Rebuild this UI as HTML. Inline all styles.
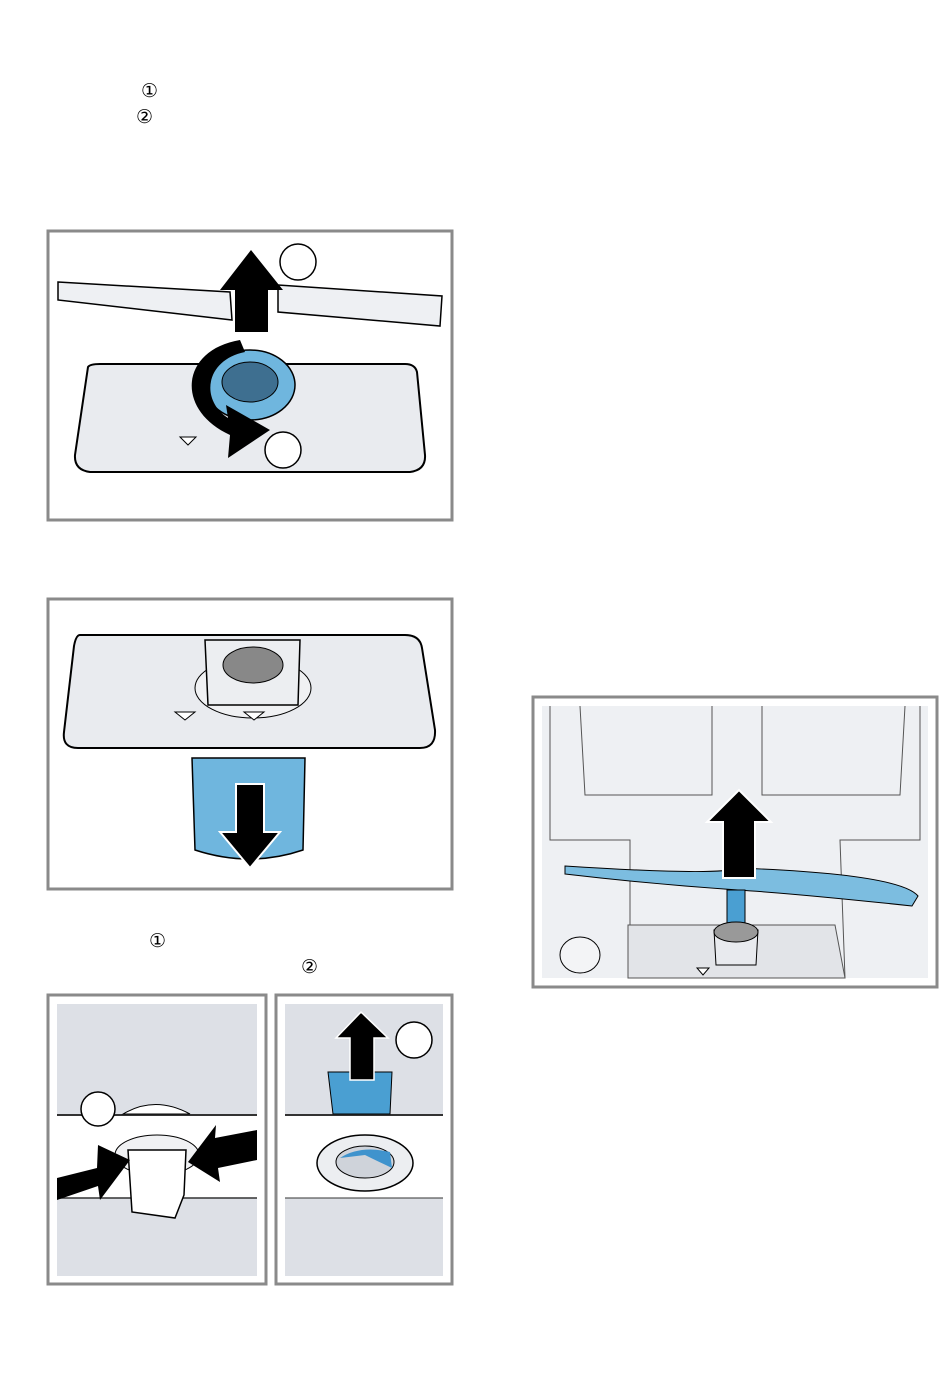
<!DOCTYPE html>
<html><head><meta charset="utf-8"><style>
html,body{margin:0;padding:0;background:#fff;width:950px;height:1392px;overflow:hidden}
.t{position:absolute;font-family:"Liberation Sans","DejaVu Sans",sans-serif;font-size:19px;color:#000}
</style></head><body>
<div class="t" style="left:141px;top:80px">①</div>
<div class="t" style="left:136px;top:106px">②</div>
<div class="t" style="left:149px;top:930px">①</div>
<div class="t" style="left:301px;top:956px">②</div>
<svg width="950" height="1392" style="position:absolute;left:0;top:0">
<g fill="none" stroke="#8a8a8a" stroke-width="3">
<rect x="48" y="231" width="404" height="289"/>
<rect x="48" y="599" width="404" height="290"/>
<rect x="48" y="995" width="218" height="289"/>
<rect x="276" y="995" width="176" height="289"/>
<rect x="533" y="697" width="404" height="290"/>
</g>
<!-- Box1 -->
<path d="M58 282 L230 292 L232 320 L58 300Z" fill="#eef0f3" stroke="#000" stroke-width="1.5"/>
<path d="M278 285 L442 296 L440 326 L278 312Z" fill="#eef0f3" stroke="#000" stroke-width="1.5"/>
<path d="M88 367 Q90 364 100 364 L405 364 Q415 364 417 372 L425 455 Q426 470 410 472 L90 472 Q74 470 75 455Z" fill="#e9ebef" stroke="#000" stroke-width="2"/>
<ellipse cx="250" cy="385" rx="45" ry="35" fill="#6fb6de" stroke="#000" stroke-width="1.5"/>
<ellipse cx="250" cy="382" rx="28" ry="20" fill="#3e6f90" stroke="#000"/>
<path d="M240 340 C180 350 175 410 230 435 L228 458 L270 430 L226 405 L228 418 C200 400 205 360 245 352Z" fill="#000"/>
<path d="M235 332 L235 290 L220 290 L251 250 L283 290 L268 290 L268 332Z" fill="#000"/>
<polygon points="180,437 196,437 188,445" fill="#fff" stroke="#000"/>
<circle cx="298" cy="262" r="18" fill="#fff" stroke="#000" stroke-width="1.5"/>
<circle cx="283" cy="450" r="18" fill="#fff" stroke="#000" stroke-width="1.5"/>
<!-- Box2 -->
<path d="M80 635 L405 635 Q420 635 422 648 L435 730 Q436 748 420 748 L78 748 Q62 748 64 732 L74 646 Q76 635 80 635Z" fill="#e9ebef" stroke="#000" stroke-width="2"/>
<ellipse cx="253" cy="688" rx="58" ry="30" fill="#f0f1f3" stroke="#000"/>
<path d="M205 640 L300 640 L298 705 L208 705Z" fill="#eceef1" stroke="#000" stroke-width="1.5"/>
<ellipse cx="253" cy="665" rx="30" ry="18" fill="#888" stroke="#000"/>
<polygon points="175,712 195,712 185,720" fill="#fff" stroke="#000"/>
<polygon points="244,712 264,712 254,720" fill="#fff" stroke="#000"/>
<path d="M192 758 L305 758 L303 850 Q250 868 195 850Z" fill="#6fb6de" stroke="#000" stroke-width="1.5"/>
<path d="M236 784 L264 784 L264 832 L280 832 L250 868 L220 832 L236 832Z" fill="#000" stroke="#fff" stroke-width="2"/>
<!-- Box3 -->
<rect x="57" y="1004" width="200" height="272" fill="#dde0e6"/>
<rect x="57" y="1115" width="200" height="83" fill="#fff"/>
<line x1="57" y1="1115" x2="257" y2="1115" stroke="#333" stroke-width="2"/>
<line x1="57" y1="1198" x2="257" y2="1198" stroke="#333" stroke-width="1.5"/>
<path d="M123 1114 Q155 1095 190 1114Z" fill="#fff" stroke="#000"/>
<circle cx="98" cy="1109" r="17" fill="#fff" stroke="#000" stroke-width="1.5"/>
<ellipse cx="157" cy="1155" rx="42" ry="20" fill="#f0f1f3" stroke="#000"/>
<path d="M128 1150 L186 1150 L184 1195 L175 1218 L132 1212Z" fill="#fff" stroke="#000" stroke-width="1.5"/>
<path d="M57 1178 L97 1168 L98 1145 L130 1160 L100 1200 L98 1186 L57 1200Z" fill="#000"/>
<path d="M257 1130 L215 1138 L216 1125 L188 1162 L220 1182 L218 1168 L257 1160Z" fill="#000"/>
<!-- Box4 -->
<rect x="285" y="1004" width="158" height="272" fill="#dde0e6"/>
<rect x="285" y="1115" width="158" height="83" fill="#fff"/>
<line x1="285" y1="1115" x2="443" y2="1115" stroke="#333" stroke-width="2"/>
<line x1="285" y1="1198" x2="443" y2="1198" stroke="#333" stroke-width="1"/>
<path d="M328 1072 L392 1072 L390 1114 L333 1114Z" fill="#4a9fd2" stroke="#000"/>
<path d="M350 1080 L350 1038 L336 1038 L361 1012 L388 1038 L374 1038 L374 1080Z" fill="#000" stroke="#fff" stroke-width="1.5"/>
<circle cx="414" cy="1040" r="18" fill="#fff" stroke="#000" stroke-width="1.5"/>
<ellipse cx="365" cy="1163" rx="48" ry="28" fill="#eceef1" stroke="#000" stroke-width="1.5"/>
<ellipse cx="365" cy="1162" rx="29" ry="16" fill="#cfd3da" stroke="#000"/>
<path d="M340 1158 Q360 1145 390 1152 L392 1168 Q375 1160 365 1155Z" fill="#3f93cd"/>
<!-- Box5 -->
<rect x="542" y="706" width="386" height="272" fill="#eef0f3"/>
<path d="M550 706 L550 840 L630 840 L630 978 M920 706 L920 840 L840 840 L845 978" fill="none" stroke="#555"/>
<path d="M580 706 L585 795 L712 795 L712 706 M762 706 L762 795 L900 795 L905 706" fill="none" stroke="#555"/>
<path d="M628 925 L835 925 L845 978 L628 978Z" fill="#e2e4e8" stroke="#555"/>
<path d="M565 866 Q720 876 738 868 Q900 874 918 896 L912 906 Q800 894 738 890 Q650 884 565 874Z" fill="#7cbde0" stroke="#000"/>
<rect x="727" y="890" width="18" height="35" fill="#4a9fd2" stroke="#000"/>
<path d="M714 930 L758 930 L756 965 L716 965Z" fill="#e8eaee" stroke="#000"/>
<ellipse cx="736" cy="932" rx="22" ry="10" fill="#999" stroke="#000"/>
<ellipse cx="580" cy="955" rx="20" ry="18" fill="#f3f4f6" stroke="#000"/>
<polygon points="697,968 709,968 703,975" fill="#fff" stroke="#000"/>
<path d="M723 878 L723 822 L707 822 L739 790 L771 822 L755 822 L755 878Z" fill="#000" stroke="#fff" stroke-width="2"/>
</svg>
</body></html>
